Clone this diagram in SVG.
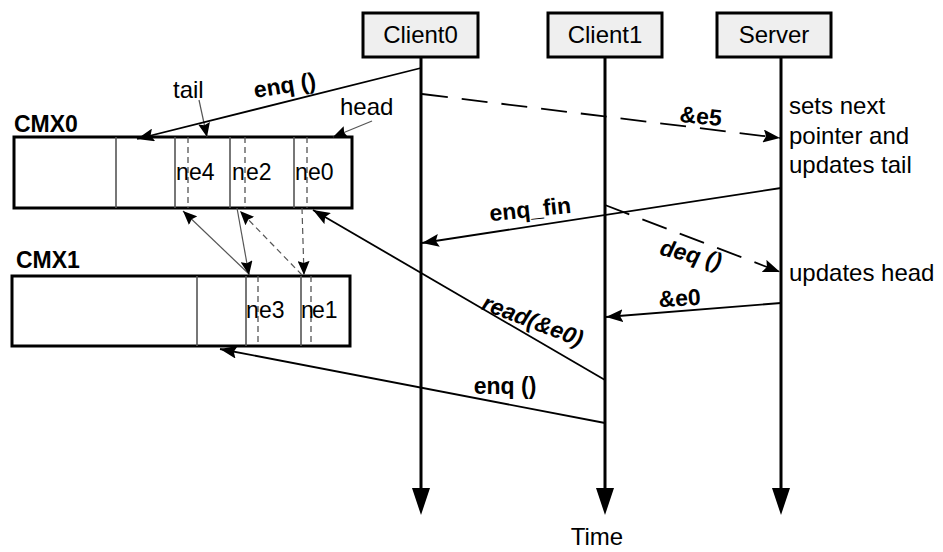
<svg xmlns="http://www.w3.org/2000/svg" width="943" height="552" viewBox="0 0 943 552">
<style>
text{font-family:"Liberation Sans",Arial,sans-serif;fill:#000}
.t{font-size:24px}
.c{font-size:23px}
.b{font-size:23px;font-weight:bold}
.bi{font-size:23px;font-weight:bold;font-style:italic}
.box{fill:#efefef;stroke:#000;stroke-width:3}
.life{stroke:#000;stroke-width:3;fill:none}
.msg{stroke:#000;stroke-width:1.8;fill:none}
.dash{stroke-dasharray:26 14}
.mem{fill:#fff;stroke:#000;stroke-width:3}
.div{stroke:#555;stroke-width:1.6}
.divd{stroke:#555;stroke-width:1.3;stroke-dasharray:6 4}
.ptr{stroke:#555;stroke-width:1.2;fill:none}
.ptrd{stroke:#555;stroke-width:1.2;fill:none;stroke-dasharray:6 4}
</style>
<defs>
<marker id="big" markerWidth="27" markerHeight="18" refX="0" refY="9" orient="auto" markerUnits="userSpaceOnUse" viewBox="0 0 27 18">
<path d="M0,0 L27,9 L0,18 z" fill="#000"/>
</marker>
<marker id="ah" markerWidth="17" markerHeight="13" refX="17" refY="6.5" orient="auto" markerUnits="userSpaceOnUse" viewBox="0 0 17 13">
<path d="M0,0 L17,6.5 L0,13 L3,6.5 z" fill="#000"/>
</marker>
<marker id="sm" markerWidth="14" markerHeight="12" refX="14" refY="6" orient="auto" markerUnits="userSpaceOnUse" viewBox="0 0 14 12">
<path d="M0,0 L14,6 L0,12 L2,6 z" fill="#000"/>
</marker>
</defs>

<g id="client0">
<rect class="box" x="363" y="13" width="115" height="44"/>
<text class="t" x="420.5" y="43" text-anchor="middle">Client0</text>
<line class="life" x1="421" y1="57" x2="421" y2="488" marker-end="url(#big)"/>
</g>
<g id="client1">
<rect class="box" x="548" y="13" width="114" height="44"/>
<text class="t" x="605" y="43" text-anchor="middle">Client1</text>
<line class="life" x1="605" y1="57" x2="605" y2="488" marker-end="url(#big)"/>
</g>
<g id="server">
<rect class="box" x="717" y="13" width="114" height="44"/>
<text class="t" x="774" y="43" text-anchor="middle">Server</text>
<line class="life" x1="781" y1="57" x2="781" y2="488" marker-end="url(#big)"/>
<text class="t" x="789" y="114">sets next</text>
<text class="t" x="789" y="144">pointer and</text>
<text class="t" x="789" y="173">updates tail</text>
<text class="t" x="789" y="281">updates head</text>
</g>

<g id="cmx0">
<text class="b" x="14" y="132">CMX0</text>
<rect class="mem" x="14" y="137" width="338" height="71"/>
<line class="div" x1="116" y1="137" x2="116" y2="208"/>
<line class="div" x1="175" y1="137" x2="175" y2="208"/>
<line class="divd" x1="188" y1="137" x2="188" y2="208"/>
<line class="div" x1="230" y1="137" x2="230" y2="208"/>
<line class="divd" x1="245" y1="137" x2="245" y2="208"/>
<line class="div" x1="294" y1="137" x2="294" y2="208"/>
<line class="divd" x1="307" y1="137" x2="307" y2="208"/>
<text class="c" x="176" y="180">n</text><text class="c" x="189" y="180">e4</text>
<text class="c" x="232" y="180">n</text><text class="c" x="246" y="180">e2</text>
<text class="c" x="295" y="180">n</text><text class="c" x="308" y="180">e0</text>
<text class="t" x="173" y="98">tail</text>
<text class="t" x="340" y="115">head</text>
</g>

<g id="cmx1">
<text class="b" x="16" y="268">CMX1</text>
<rect class="mem" x="12" y="276" width="338" height="70"/>
<line class="div" x1="197" y1="276" x2="197" y2="346"/>
<line class="div" x1="246" y1="276" x2="246" y2="346"/>
<line class="divd" x1="258" y1="276" x2="258" y2="346"/>
<line class="div" x1="301" y1="276" x2="301" y2="346"/>
<line class="divd" x1="311" y1="276" x2="311" y2="346"/>
<text class="c" x="246" y="318">n</text><text class="c" x="259" y="318">e3</text>
<text class="c" x="301" y="318">n</text><text class="c" x="312" y="318">e1</text>
</g>

<g id="time">
<text class="t" x="597" y="545" text-anchor="middle">Time</text>
</g>

<g id="connectors">
<line class="ptr" x1="199" y1="100" x2="207" y2="137" marker-end="url(#sm)"/>
<line class="ptr" x1="372" y1="121" x2="333" y2="137" marker-end="url(#sm)"/>
<line class="ptr" x1="250" y1="275" x2="183" y2="211" marker-end="url(#sm)"/>
<line class="ptr" x1="237" y1="208" x2="249" y2="275" marker-end="url(#sm)"/>
<line class="ptrd" x1="302" y1="275" x2="240" y2="211" marker-end="url(#sm)"/>
<line class="ptrd" x1="302" y1="208" x2="304" y2="275" marker-end="url(#sm)"/>

<line class="msg" x1="421" y1="68" x2="137" y2="139" marker-end="url(#ah)"/>
<text class="b" transform="translate(286,93) rotate(-9)" text-anchor="middle">enq ()</text>

<line class="msg dash" x1="422" y1="94" x2="780" y2="138" marker-end="url(#ah)"/>
<text class="b" transform="translate(700,124) rotate(6)" text-anchor="middle">&amp;e5</text>

<line class="msg" x1="781" y1="188" x2="422" y2="243" marker-end="url(#ah)"/>
<text class="b" transform="translate(531,217) rotate(-6)" text-anchor="middle">enq_fin</text>

<line class="msg dash" x1="605" y1="205" x2="780" y2="272" marker-end="url(#ah)"/>
<text class="bi" transform="translate(689,262) rotate(14)" text-anchor="middle">deq ()</text>

<line class="msg" x1="781" y1="303" x2="606" y2="317" marker-end="url(#ah)"/>
<text class="b" transform="translate(680,306) rotate(-3)" text-anchor="middle">&amp;e0</text>

<line class="msg" x1="605" y1="380" x2="313" y2="210" marker-end="url(#ah)"/>
<text class="bi" transform="translate(530,328) rotate(21)" text-anchor="middle">read(&amp;e0)</text>

<line class="msg" x1="605" y1="423" x2="220" y2="349" marker-end="url(#ah)"/>
<text class="b" x="505" y="394" text-anchor="middle">enq ()</text>
</g>
</svg>
